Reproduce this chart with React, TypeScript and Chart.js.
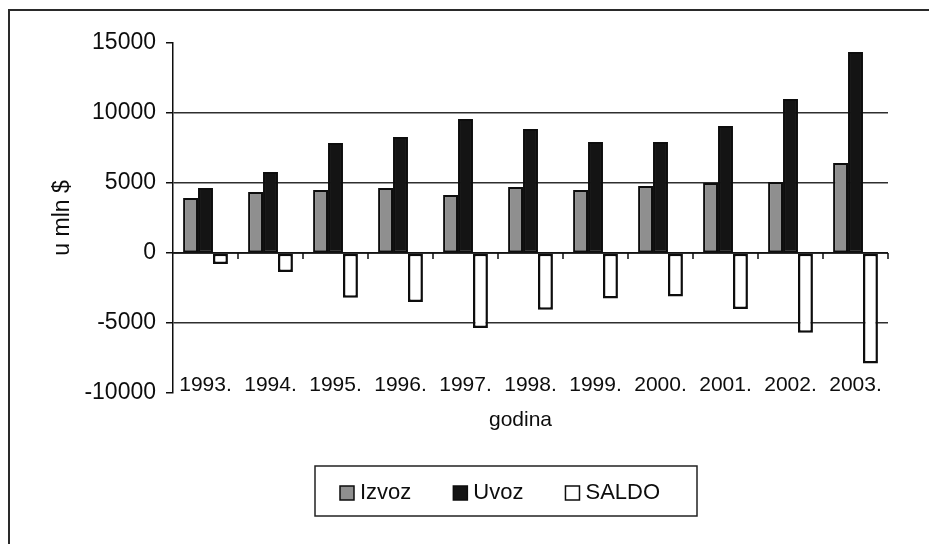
import React, { useEffect, useRef } from "react";
import { Chart, registerables } from "chart.js";

Chart.register(...registerables);

const years = ["1993.", "1994.", "1995.", "1996.", "1997.", "1998.", "1999.", "2000.", "2001.", "2002.", "2003."];
const izvoz = [3930, 4360, 4500, 4640, 4140, 4710, 4500, 4780, 5000, 5070, 6430];
const uvoz = [4640, 5790, 7860, 8290, 9570, 8860, 7930, 7930, 9070, 11000, 14360];
const saldo = [-790, -1350, -3200, -3500, -5360, -4050, -3250, -3100, -4000, -5700, -7900];
const seriesNames = ["Izvoz", "Uvoz", "SALDO"];
const yTitle = "u mln $";
const xTitle = "godina";

const FONT = "'Liberation Sans', Arial, sans-serif";
const INK = "#0d0d0d";

const decor = {
  id: "decor",
  beforeDraw(chart: any) {
    const { ctx, width, height } = chart;
    ctx.save();
    ctx.fillStyle = "#ffffff";
    ctx.fillRect(0, 0, width, height);
    ctx.restore();
  },
  afterDatasetsDraw(chart: any) {
    const { ctx } = chart;
    const xs = chart.scales.x;
    const ys = chart.scales.y;
    const y0 = ys.getPixelForValue(0);
    const n = chart.data.labels.length;
    const half = (xs.getPixelForValue(1) - xs.getPixelForValue(0)) / 2;
    ctx.save();
    ctx.strokeStyle = INK;
    ctx.lineWidth = 1.5;
    ctx.beginPath();
    ctx.moveTo(xs.left, y0);
    ctx.lineTo(xs.right, y0);
    for (let i = 1; i <= n; i++) {
      const px = xs.getPixelForValue(i - 1) + half;
      ctx.moveTo(px, y0);
      ctx.lineTo(px, y0 + 6);
    }
    ctx.stroke();
    // x title
    ctx.fillStyle = INK;
    ctx.font = `21px ${FONT}`;
    ctx.textAlign = "center";
    ctx.textBaseline = "middle";
    ctx.fillText(xTitle, (xs.left + xs.right) / 2 - 10, 420);
    ctx.restore();
  },
  afterDraw(chart: any) {
    const { ctx, width, height } = chart;
    ctx.save();
    // frame
    ctx.strokeStyle = "#2a2a2a";
    ctx.lineWidth = 2;
    ctx.beginPath();
    ctx.moveTo(9, height);
    ctx.lineTo(9, 10);
    ctx.lineTo(width, 10);
    ctx.stroke();
    // legend box
    const bx = 315, by = 466, bw = 382, bh = 50;
    ctx.fillStyle = "#ffffff";
    ctx.fillRect(bx, by, bw, bh);
    ctx.strokeStyle = "#222";
    ctx.lineWidth = 1.5;
    ctx.strokeRect(bx, by, bw, bh);
    ctx.font = `22px ${FONT}`;
    ctx.textBaseline = "middle";
    ctx.textAlign = "left";
    let x = 340;
    const cy = by + bh / 2 + 2;
    chart.data.datasets.forEach((ds: any) => {
      ctx.fillStyle = ds.backgroundColor;
      ctx.fillRect(x, cy - 7, 14, 14);
      ctx.strokeStyle = INK;
      ctx.lineWidth = 1.5;
      ctx.strokeRect(x, cy - 7, 14, 14);
      ctx.fillStyle = INK;
      ctx.fillText(ds.label, x + 20, cy);
      x += 20 + ctx.measureText(ds.label).width + 42;
    });
    ctx.restore();
  },
};

export default function App() {
  const ref = useRef<HTMLCanvasElement | null>(null);
  useEffect(() => {
    if (!ref.current) return;
    const chart = new Chart(ref.current, {
      type: "bar",
      data: {
        labels: years,
        datasets: [
          { label: seriesNames[0], data: izvoz, backgroundColor: "#8f8f8f", borderColor: INK, borderWidth: 2, borderSkipped: false },
          { label: seriesNames[1], data: uvoz, backgroundColor: "#141414", borderColor: INK, borderWidth: 2, borderSkipped: false },
          { label: seriesNames[2], data: saldo, backgroundColor: "#ffffff", borderColor: INK, borderWidth: 2.5, borderSkipped: false },
        ],
      },
      options: {
        responsive: false,
        animation: false,
        devicePixelRatio: 1,
        layout: { padding: { left: 0, top: 43, right: 41, bottom: 0 } },
        plugins: { legend: { display: false }, tooltip: { enabled: false } },
        datasets: { bar: { categoryPercentage: 0.69, barPercentage: 1.0 } },
        scales: {
          x: {
            grid: { display: false },
            border: { display: false },
            ticks: { color: INK, font: { family: FONT, size: 21 }, mirror: true, padding: -5, maxRotation: 0, autoSkip: false },
            afterFit: (s: any) => { s.height = 151; },
          },
          y: {
            min: -10000,
            max: 15000,
            ticks: { stepSize: 5000, color: INK, font: { family: FONT, size: 23 }, padding: 10, callback: (v: any) => String(v) },
            grid: {
              color: (c: any) => (c.tick && (c.tick.value === 15000 || c.tick.value === -10000) ? "rgba(0,0,0,0)" : "#2e2e2e"),
              lineWidth: 1.5,
              tickLength: 7,
              tickColor: INK,
              tickWidth: 1.5,
            },
            border: { display: true, color: INK, width: 1.5 },
            title: { display: true, text: yTitle, color: INK, font: { family: FONT, size: 23 }, padding: { top: 49, bottom: 0 } },
            afterFit: (s: any) => { s.width = 173; },
          },
        },
      },
      plugins: [decor],
    });
    return () => chart.destroy();
  }, []);
  return (
    <div style={{ position: "fixed", left: 0, top: 0, width: 929, height: 544 }}>
      <canvas ref={ref} width={929} height={544} style={{ width: 929, height: 544, display: "block" }} />
    </div>
  );
}
